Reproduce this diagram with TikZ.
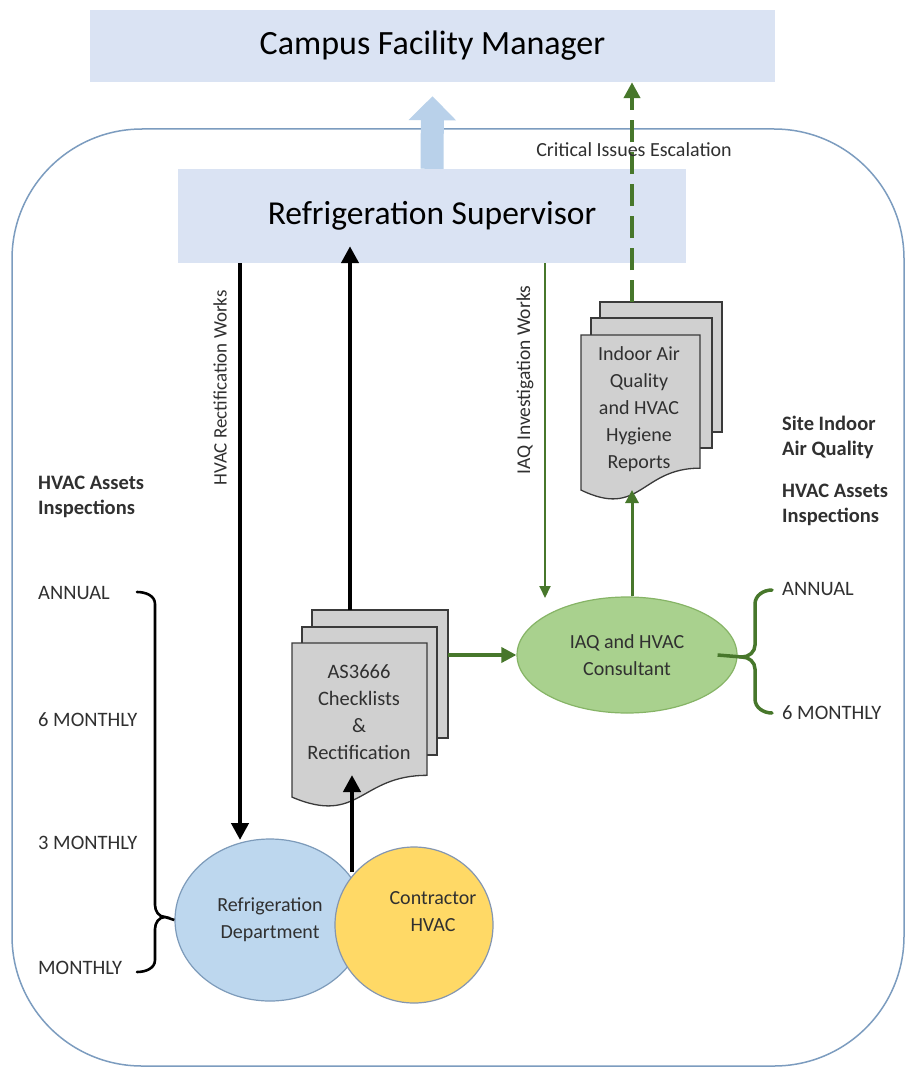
\documentclass[tikz,border=0pt]{standalone}
\usepackage{fontspec}
\setmainfont{Carlito}
\usetikzlibrary{arrows.meta,shapes.geometric}
\definecolor{boxblue}{HTML}{DAE3F3}
\definecolor{arrowblue}{HTML}{B9D1EA}
\definecolor{outline}{HTML}{7C9CBF}
\definecolor{dgreen}{HTML}{47772B}
\definecolor{iaqfill}{HTML}{A9D18E}
\definecolor{iaqdraw}{HTML}{86B466}
\definecolor{rdfill}{HTML}{BDD7EE}
\definecolor{rddraw}{HTML}{7D9BBA}
\definecolor{ctfill}{HTML}{FFD966}
\definecolor{ctdraw}{HTML}{8496B0}
\definecolor{docfill}{HTML}{D0D0D0}
\definecolor{docdraw}{HTML}{3A3A3A}
\definecolor{txt}{HTML}{303030}
\newcommand{\mydocshape}[4]{%
  \filldraw[docsheet] (#1,#2) -- (#3,#2) -- (#3,{#2+0.802*#4})
    .. controls ({(#1+#3)/2},{#2+0.802*#4}) and ({(#1+#3)/2},{#2+1.1075*#4}) .. (#1,{#2+0.934*#4}) -- cycle;}
\begin{document}
\begin{tikzpicture}[x=1pt,y=-1pt,
  titlebox/.style={fill=boxblue,draw=none,inner sep=0pt,text=black},
  docsheet/.style={fill=docfill,draw=docdraw,line width=1.3pt},
  doctext/.style={align=center,font=\fontsize{20.5}{27}\selectfont,text=txt},
  lbl/.style={font=\fontsize{20.5}{25}\selectfont,text=txt,inner sep=0pt},
  blbl/.style={font=\bfseries\fontsize{20.5}{25}\selectfont,text=txt,align=left,inner sep=0pt},
  ell/.style={ellipse,inner sep=0pt,line width=1.2pt,align=center,font=\fontsize{20}{27}\selectfont,text=txt},
  blkarrow/.style={draw=black,line width=4.5pt,-{Triangle[width=17pt,length=17pt]}},
  garrow/.style={draw=dgreen,line width=2pt,-{Triangle[width=11pt,length=12pt]}},
  gthick/.style={draw=dgreen,line width=3.5pt,-{Triangle[width=15pt,length=15pt]}},
  brc/.style={line width=2.6pt,line cap=round}]
\useasboundingbox (0,0) rectangle (905,1070);
\fill[white] (0,0) rectangle (905,1070);
% outer rounded region
\draw[outline,line width=1.5pt,rounded corners=130pt] (12,129) rectangle (904,1066);
% title boxes
\node[titlebox,minimum width=685pt,minimum height=72pt,font=\fontsize{34}{38}\selectfont] (campus) at (432.5,46) {Campus Facility Manager};
\node[titlebox,minimum width=508pt,minimum height=94pt,font=\fontsize{33.5}{38}\selectfont] (sup) at (432,216) {Refrigeration Supervisor};
% big blue arrow
\draw[arrowblue,line width=23pt,-{Triangle[width=46pt,length=24pt]}] (sup.north) -- ([yshift=-14pt]campus.south);
% documents: AS3666
\draw[docsheet] (312,610) rectangle (448,738);
\draw[docsheet] (302,627) rectangle (437,755);
\mydocshape{292}{643}{427}{165}
\node[doctext] (astext) at (359,712) {AS3666\\Checklists\\\&\\Rectification};
\coordinate (asTop) at (350,610);
\coordinate (asBot) at (352,775);
\coordinate (asRight) at (448,655);
% documents: reports
\draw[docsheet] (600,302) rectangle (722,432);
\draw[docsheet] (591,318) rectangle (712,448);
\mydocshape{581}{335}{700}{166}
\node[doctext,font=\fontsize{20}{27}\selectfont] (reptext) at (639,409) {Indoor Air\\Quality\\and HVAC\\Hygiene\\Reports};
\coordinate (repTop) at (632,302);
\coordinate (repBot) at (632,490);
% ellipses
\node[ell,fill=iaqfill,draw=iaqdraw,minimum width=220pt,minimum height=116pt] (iaq) at (627,655) {IAQ and HVAC\\Consultant};
\node[ell,fill=rdfill,draw=rddraw,minimum width=190pt,minimum height=162pt] (rd) at (270,920) {Refrigeration\\Department};
\node[ell,fill=ctfill,draw=ctdraw,minimum width=158pt,minimum height=156pt] (ct) at (414,925) {};
\node[lbl,align=center,font=\fontsize{20}{27}\selectfont] (cttext) at (433,912) {Contractor\\HVAC};
% connectors
\coordinate (hvacEnd) at (240,840);
\draw[blkarrow] (sup.south -| hvacEnd) -- (hvacEnd);
\node[lbl,rotate=90,font=\fontsize{19}{22}\selectfont] (hvaclbl) at (220,388) {HVAC Rectification Works};
\coordinate (ctTop) at (352,872);
\draw[blkarrow] (asTop) -- ([yshift=17pt]sup.south -| asTop);
\draw[blkarrow] (ctTop) -- (asBot);
\coordinate (iaqTop) at (545,598);
\draw[garrow] (sup.south -| iaqTop) -- (iaqTop);
\node[lbl,rotate=90,font=\fontsize{19.5}{22}\selectfont] (iaqlbl) at (525,380) {IAQ Investigation Works};
\draw[gthick] (asRight) -- (iaq.west);
\draw[draw=dgreen,line width=3pt,-{Triangle[width=13pt,length=13pt]}] (iaq.north -| repBot) -- (repBot);
\draw[draw=dgreen,line width=4pt,dash pattern=on 22pt off 10pt,-{Triangle[width=16pt,length=16pt]}] (repTop) -- (campus.south -| repTop);
\node[lbl,font=\fontsize{20}{22}\selectfont] (critlbl) at (634,150) {Critical Issues Escalation};
% left labels and brace
\node[blbl,anchor=west] (lefthead) at (38,497) {HVAC Assets\\Inspections};
\node[lbl,anchor=west] (la) at (38,593) {ANNUAL};
\node[lbl,anchor=west] (l6) at (38,720) {6 MONTHLY};
\node[lbl,anchor=west] (l3) at (38,843) {3 MONTHLY};
\node[lbl,anchor=west] (lm) at (38,968) {MONTHLY};
\draw[brc,black] (137,592) to[out=0,in=90] (155,604) -- (155,905) to[out=-90,in=180] (165,917)
  to[out=180,in=90] (155,929) -- (155,960) to[out=-90,in=0] (137,972);
\coordinate (lbtip) at (165,917);
\draw[brc,black,line cap=butt] (lbtip) -- (rd.west);
% right labels and brace
\node[blbl,anchor=west] (righthead1) at (782,437) {Site Indoor\\Air Quality};
\node[blbl,anchor=west] (righthead2) at (782,505) {HVAC Assets\\Inspections};
\node[lbl,anchor=west] (ra) at (782,589) {ANNUAL};
\node[lbl,anchor=west] (r6) at (782,713) {6 MONTHLY};
\draw[brc,dgreen,line width=3.5pt] (772,590) to[out=180,in=90] (755,604) -- (755,645) to[out=-90,in=0] (742,657)
  to[out=0,in=90] (755,669) -- (755,699) to[out=-90,in=180] (772,713);
\coordinate (rbtip) at (742,657);
\draw[dgreen,line width=3.5pt] ([xshift=-20pt]iaq.east) -- (rbtip);
\end{tikzpicture}
\end{document}
